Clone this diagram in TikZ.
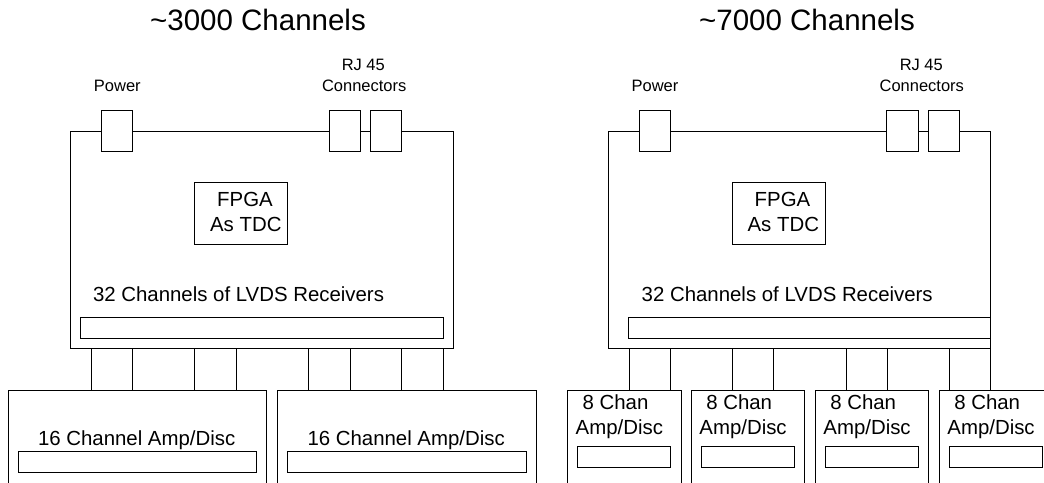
\documentclass[tikz,border=0pt]{standalone}
\usepackage{fontspec}
\setmainfont{Liberation Sans}
\begin{document}
\begin{tikzpicture}[x=1pt,y=-1pt,
  box/.style={draw=black,line width=1pt,fill=white,inner sep=0pt,outer sep=0pt,anchor=north west},
  txt/.style={inner sep=0pt,outer sep=0pt,text=black},
  big/.style={txt,font=\fontsize{29.5}{32}\selectfont},
  mid/.style={txt,font=\fontsize{20.4}{24}\selectfont},
  sml/.style={txt,font=\fontsize{16.5}{19}\selectfont},
  wire/.style={draw=black,line width=1pt}]
\useasboundingbox (0,0) rectangle (1044,482);
\clip (0,0) rectangle (1044,482);
\fill[white] (0,0) rectangle (1044,482);

% ---------------- Left: ~3000 Channels ----------------
\node[big,anchor=base] (titleL) at (258,30.5) {\char`\~3000 Channels};
\node[sml,anchor=base] (pwrtxtL) at (117.3,91.5) {Power};
\node[sml,anchor=base] (rjtxtL) at (363.3,70.5) {RJ 45};
\node[sml,anchor=base] (contxtL) at (364.2,91.5) {Connectors};

\node[box,minimum width=383pt,minimum height=217pt] (mainL) at (70,131) {};
\node[box,minimum width=31.7pt,minimum height=41.7pt] (pwrL) at (101,110) {};
\node[box,minimum width=31.3pt,minimum height=41.7pt] (rjL1) at (329,110) {};
\node[box,minimum width=31.7pt,minimum height=41.7pt] (rjL2) at (370,110) {};
\node[box,minimum width=93pt,minimum height=62pt] (fpgaL) at (194.7,182.3) {};
\node[mid,anchor=base] (fpgatxtL) at (245,206.5) {FPGA};
\node[mid,anchor=base] (astdcL) at (245.8,231) {As TDC};
\node[mid,anchor=base west] (lvdstxtL) at (93,301.6) {32 Channels of LVDS Receivers};
\node[box,minimum width=363.3pt,minimum height=20.3pt] (lvdsL) at (80,317.7) {};

\node[box,minimum width=258.4pt,minimum height=120pt] (ampL1) at (8.3,390) {};
\node[box,minimum width=238.4pt,minimum height=20.6pt] (barL1) at (18.3,451.7) {};
\node[mid,anchor=base west] (amptxtL1) at (38,445.5) {16 Channel Amp/Disc};
\node[box,minimum width=258.3pt,minimum height=120pt] (ampL2) at (277.7,390) {};
\node[box,minimum width=238.3pt,minimum height=20.6pt] (barL2) at (287.7,451.7) {};
\node[mid,anchor=base west] (amptxtL2) at (307.5,445.5) {16 Channel Amp/Disc};

\foreach \x in {91,132.7,194.7,236.3}
  \draw[wire] (\x,0 |- mainL.south) -- (\x,0 |- ampL1.north);
\foreach \x in {308.3,350,401.7,443}
  \draw[wire] (\x,0 |- mainL.south) -- (\x,0 |- ampL2.north);

% ---------------- Right: ~7000 Channels ----------------
\node[big,anchor=base] (titleR) at (807,30.5) {\char`\~7000 Channels};
\node[sml,anchor=base] (pwrtxtR) at (655,91.5) {Power};
\node[sml,anchor=base] (rjtxtR) at (921.3,70.5) {RJ 45};
\node[sml,anchor=base] (contxtR) at (921.8,91.5) {Connectors};

\node[box,minimum width=382pt,minimum height=217pt] (mainR) at (608.3,131) {};
\node[box,minimum width=31.3pt,minimum height=41.7pt] (pwrR) at (639,110) {};
\node[box,minimum width=31.6pt,minimum height=41.7pt] (rjR1) at (886.7,110) {};
\node[box,minimum width=31.3pt,minimum height=41.7pt] (rjR2) at (928,110) {};
\node[box,minimum width=93pt,minimum height=62pt] (fpgaR) at (732.3,182.3) {};
\node[mid,anchor=base] (fpgatxtR) at (782.5,206.5) {FPGA};
\node[mid,anchor=base] (astdcR) at (783.3,231) {As TDC};
\node[mid,anchor=base west] (lvdstxtR) at (641.7,301.6) {32 Channels of LVDS Receivers};
\node[box,minimum width=361.6pt,minimum height=20.3pt] (lvdsR) at (628.7,317.7) {};

\foreach \i/\l in {1/567.3,2/691,3/815,4/939}{
  \node[box,minimum width=113.7pt,minimum height=120pt] (amp\i) at (\l,390) {};
  \node[box,minimum width=93.5pt,minimum height=21pt] (bar\i) at (\l+10,446.7) {};
  \node[mid,anchor=base west] (chan\i) at (\l+15.3,409.6) {8 Chan};
  \node[mid,anchor=base west] (ad\i) at (\l+8.4,434.2) {Amp/Disc};
}
\foreach \x/\i in {629/1,670.3/1,732.3/2,773.3/2,846/3,887.3/3,949/4}
  \draw[wire] (\x,0 |- mainR.south) -- (\x,0 |- amp\i.north);
\draw[wire] (mainR.south east) -- (mainR.south east |- amp4.north);
\end{tikzpicture}
\end{document}
